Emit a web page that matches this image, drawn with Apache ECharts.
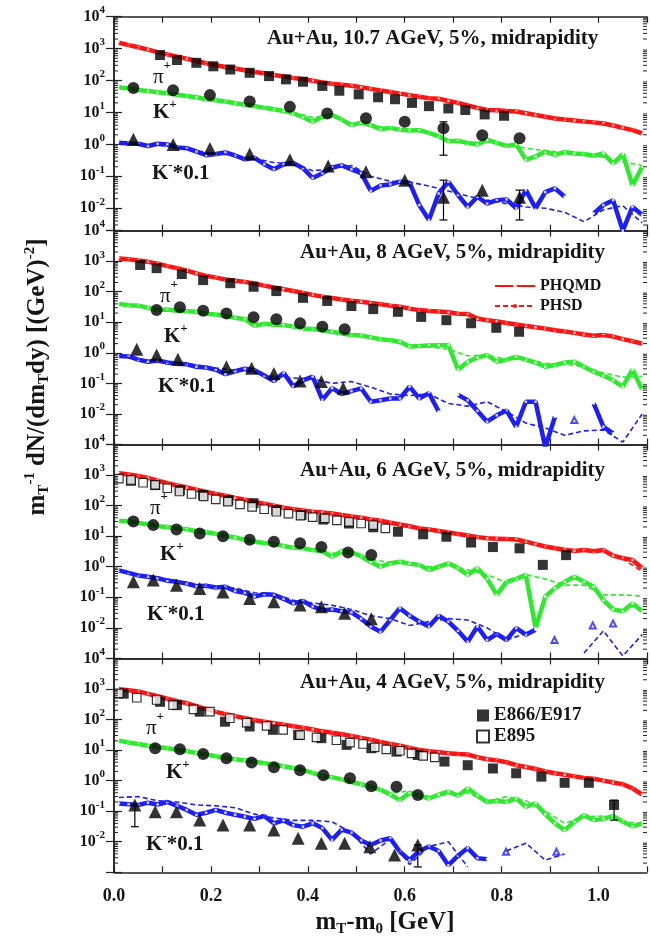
<!DOCTYPE html>
<html>
<head>
<meta charset="utf-8">
<script src="https://cdn.jsdelivr.net/npm/echarts@6/dist/echarts.min.js"></script>
<style>
html, body { margin: 0; padding: 0; background: #fff; }
#main { width: 650px; height: 942px; }
</style>
</head>
<body>
<div id="main"></div>
<script>
// x grids of the model curves (PHQMD every 0.02 GeV, PHSD every 0.04 GeV)
var xM = [0.01,0.03,0.05,0.07,0.09,0.11,0.13,0.15,0.17,0.19,0.21,0.23,0.25,0.27,0.29,0.31,0.33,0.35,0.37,0.39,0.41,0.43,0.45,0.47,0.49,0.51,0.53,0.55,0.57,0.59,0.61,0.63,0.65,0.67,0.69,0.71,0.73,0.75,0.77,0.79,0.81,0.83,0.85,0.87,0.89,0.91,0.93,0.95,0.97,0.99,1.01,1.03,1.05,1.07,1.09];
var xH = [0.01,0.05,0.09,0.13,0.17,0.21,0.25,0.29,0.33,0.37,0.41,0.45,0.49,0.53,0.57,0.61,0.65,0.69,0.73,0.77,0.81,0.85,0.89,0.93,0.97,1.01,1.05,1.09];
var decadeBases = [0.001, 0.01, 0.1, 1, 10, 100, 1000];

// ---- panel 1: 10.7 AGeV
var p1PiQ = [1550,1290,1100,930,780,660,560,480,410,350,300,265,240,210,186,170,150,135,120,110,98,87,79,74,69,62,55,49,44,39,35,31,28,27,23,20,16.6,14,12,11.7,11.2,10.7,9.5,8.3,7.4,6.5,6.0,5.6,5.2,4.9,4.5,3.9,3.3,2.8,2.2];
var p1PiH = [1500,1080,770,560,400,300,235,185,148,118,97,80,67,54,44,35,28,22,17,13,11,9.3,7.5,6.1,5.1,4.2,3.3,2.3];
var p1KpQ = [62,56,51,47,43,40,36,33,30,26,24,22,19.5,17.4,15.8,14,12.6,11.2,9.5,7.1,5.1,7.4,8.3,6.0,4.0,4.8,4.0,3.0,3.3,2.9,2.75,2.8,2.3,1.8,1.26,1.3,1.1,1.0,1.4,1.12,0.9,1.0,0.33,0.42,0.6,0.47,0.58,0.52,0.5,0.44,0.52,0.25,0.5,0.052,0.2];
var p1KpH = [62,51,43,36,30,24,19.5,15.8,12.6,10,7,8,4.5,4,3.2,2.8,2.3,1.4,1.1,1.3,0.95,0.76,0.63,0.56,0.48,0.4,0.28,0.22];
var p1KmQ = [1.12,1.07,1.05,0.89,1.05,1.0,0.8,0.76,0.6,0.46,0.5,0.56,0.45,0.34,0.38,0.24,0.166,0.24,0.26,0.18,0.089,0.126,0.19,0.22,0.166,0.126,0.035,0.052,0.056,0.068,0.063,0.0126,0.0043,0.029,0.068,0.026,0.011,0.023,0.014,0.018,0.019,0.01,0.037,0.01,0.032,0.042,0.023,null,null,0.0069,0.0126,0.018,0.002,0.011,0.0063];
var p1KmH = [1.1,1.0,0.95,0.8,0.62,0.52,0.45,0.36,0.27,0.25,0.15,0.17,0.22,0.1,0.07,0.066,0.05,0.035,0.024,0.018,0.014,0.011,0.01,0.0075,0.0038,0.009,0.012,0.0035];
var p1PiDx = [0.095,0.13,0.17,0.205,0.24,0.28,0.32,0.355,0.39,0.43,0.465,0.505,0.545,0.58,0.615,0.65,0.69,0.725,0.765,0.805];
var p1PiDy = [630,440,360,280,222,175,138,109,92,68,48,37,30,26,20,15.8,13.4,12,8.7,7.9];
var p1KpDx = [0.04,0.122,0.198,0.28,0.363,0.44,0.52,0.60,0.68,0.76,0.837];
var p1KpDy = [58,50,35,22,15,9.3,6.6,5.1,3.2,1.95,1.55];
var p1KmDx = [0.04,0.122,0.198,0.28,0.363,0.442,0.52,0.60,0.68,0.76,0.837];
var p1KmDy = [1.45,1.0,0.74,0.5,0.33,0.21,0.14,0.076,0.022,0.037,0.022];
var p1Err = [[0.68,0.46,5.1],[0.68,0.0043,0.076],[0.837,0.0043,0.037]];

// ---- panel 2: 8 AGeV
var p2PiQ = [1230,1150,1050,950,830,690,590,490,400,330,290,250,230,210,186,158,138,120,105,91,79,69,62,56,51,47,43,39,35,32,28,25,23.4,22.4,21.4,19,18.5,13.2,11.7,10.7,9.5,8.5,7.6,6.9,6.2,5.5,5.0,4.5,4.0,3.6,3.8,3.4,2.8,2.4,2.0];
var p2PiH = [1200,1030,820,580,400,285,225,180,135,103,78,61,50,42,34,27,23,21,17,12,9.5,7.8,6.3,5.1,4.1,3.6,2.9,1.9];
var p2KpQ = [40,36,35,30,25,26,24,23,22,19,18,16,14,12.6,7.6,8.9,8.3,8.1,7.2,6.3,6.0,5.5,4.9,4.3,3.8,3.7,3.2,2.8,2.6,2.3,1.6,1.66,1.74,1.78,1.8,0.28,0.51,0.7,0.85,0.51,0.6,0.74,0.6,0.48,0.35,0.4,0.48,0.51,0.35,0.24,0.18,0.126,0.078,0.28,0.063];
var p2KpH = [40,35,26,24,21,18,14,9.5,8.5,7.0,6.0,4.9,3.9,3.2,2.6,1.5,1.6,1.3,0.8,0.85,0.6,0.62,0.45,0.42,0.35,0.22,0.16,0.17];
var p2KmQ = [0.79,0.76,0.6,0.51,0.56,0.48,0.44,0.42,0.35,0.33,0.28,0.2,0.25,0.3,0.27,0.18,0.12,0.22,0.08,0.126,0.166,0.029,0.07,0.045,0.056,0.069,0.025,0.028,0.032,0.032,0.078,0.032,0.048,0.012,null,0.042,0.028,0.0126,0.0056,0.009,0.013,0.0038,0.025,0.025,0.0008,0.0081,null,null,null,0.022,0.0038,0.0023,null,null,0.003];
var p2KmH = [0.8,0.62,0.55,0.46,0.4,0.32,0.27,0.22,0.17,0.15,0.14,0.1,0.115,0.075,0.045,0.04,0.045,0.022,0.018,0.025,0.012,0.005,0.0035,0.002,0.0028,0.003,0.0012,0.01];
var p2PiDx = [0.054,0.088,0.14,0.184,0.24,0.288,0.335,0.39,0.44,0.49,0.535,0.586,0.634,0.686,0.737,0.789,0.836];
var p2PiDy = [750,590,380,240,190,145,105,63,50,34,27,22,15,11.7,9.3,6.6,4.9];
var p2KpDx = [0.088,0.136,0.184,0.232,0.288,0.335,0.384,0.43,0.476];
var p2KpDy = [25,31,24,19.5,14.5,12.6,9.3,7.2,5.9];
var p2KmDx = [0.047,0.088,0.132,0.232,0.284,0.33,0.384,0.428,0.473];
var p2KmDy = [1.3,0.85,0.62,0.35,0.31,0.21,0.12,0.115,0.069];
var p2Err = [];
var p2Iso = [[0.95,0.0063]];

// ---- panel 3: 6 AGeV
var p3PiQ = [1150,1050,930,810,660,540,460,390,330,280,240,210,178,155,132,115,100,85,76,69,63,60,55,49,44,40,35,32,27.5,24,21,18,16.6,14.8,13.2,11.7,10.5,9.3,8.5,8.3,8.1,7.8,6.6,5.5,4.6,4.0,3.6,3.3,3.5,3.2,3.5,2.3,1.9,1.66,0.9];
var p3PiH = [1120,900,650,450,320,235,172,130,98,75,62,53,43,35,27,21,16.3,13,10.3,8.4,8.0,6.5,4.5,3.5,3.3,3.3,1.8,0.7];
var p3KpQ = [32,30,27,24.5,21,20,18,17,14.5,13.5,12,10.2,9.1,7.6,6.6,6.0,5.5,4.8,4.2,4.0,3.5,3.2,2.1,3.2,3.0,2.2,1.4,1.0,1.3,1.45,1.26,1.15,0.78,1.0,1.3,0.9,0.54,0.9,0.4,0.12,0.32,0.4,0.54,0.0098,0.105,0.2,0.32,0.47,0.32,0.22,0.08,0.04,0.035,0.063,0.035];
var p3KpH = [32,27,21,18,14.5,12,9.1,6.6,5.5,4.4,3.6,2.8,2.6,1.7,1.4,1.3,1.0,1.1,0.8,0.55,0.3,0.55,0.4,0.25,0.25,0.12,0.12,0.11];
var p3KmQ = [0.76,0.63,0.52,0.47,0.42,0.35,0.32,0.28,0.23,0.24,0.21,0.22,0.16,0.14,0.105,0.126,0.12,0.089,0.063,0.076,0.05,0.038,0.04,0.035,0.032,0.02,0.011,0.0074,0.018,0.044,0.025,0.016,0.011,0.025,0.016,0.008,0.0035,0.011,0.004,0.0063,0.004,0.0098,0.006,0.0087,null,null,null,null,null,null,null,null,null,null,null];
var p3KmH = [0.8,0.55,0.45,0.35,0.27,0.22,0.2,0.14,0.13,0.08,0.065,0.055,0.04,0.025,0.02,0.012,0.016,0.02,0.018,0.01,0.004,0.0065,null,null,0.0015,0.008,0.0012,0.006];
var p3PiOx = [0.01,0.035,0.06,0.085,0.11,0.135,0.16,0.185,0.21,0.235,0.26,0.285,0.31,0.335,0.36,0.385,0.41,0.435,0.46,0.485,0.51,0.535,0.56];
var p3PiOy = [760,690,560,480,370,290,240,200,160,135,110,91,76,63,55,47,42,38,33,29.5,26,23,18];
var p3PiDx = [0.035,0.085,0.136,0.184,0.236,0.288,0.335,0.387,0.432,0.485,0.535,0.586,0.638,0.686,0.737,0.782,0.837,0.885,0.933];
var p3PiDy = [650,470,325,225,150,120,72,49,35,26,19.5,14,11.5,9.6,6.2,4.4,4.0,1.15,2.4];
var p3KpDx = [0.04,0.081,0.129,0.177,0.225,0.28,0.33,0.384,0.428,0.483,0.531];
var p3KpDy = [30,23,16.6,12.3,10,7.6,6.6,5.9,4.4,2.9,2.4];
var p3KmDx = [0.04,0.081,0.129,0.177,0.225,0.28,0.33,0.384,0.428,0.476,0.531];
var p3KmDy = [0.32,0.37,0.25,0.195,0.15,0.091,0.072,0.056,0.049,0.03,0.02];
var p3Err = [];
var p3Iso = [[0.909,0.004],[0.988,0.012],[1.03,0.014]];

// ---- panel 4: 4 AGeV
var p4PiQ = [980,910,830,690,575,480,400,340,275,220,178,150,129,110,95,85,76,68,60,54,47,41,37,33,29,25,22,18.6,15.8,13.8,11.7,10,9.1,8.5,7.9,7.4,7.2,5.8,5.0,4.6,4.0,3.2,2.8,2.4,2.0,1.74,1.55,1.38,1.23,1.15,1.0,0.87,0.76,0.56,0.35];
var p4PiH = [950,820,570,400,270,175,128,95,75,60,47,37,29,22,15.8,11.7,9.1,7.9,7.0,5.0,4.0,2.9,2.0,1.55,1.25,1.0,0.78,0.4];
var p4KpQ = [20.4,17.8,15.8,13.8,12.6,11.5,10.2,9.1,8.1,7.2,6.3,5.5,5.0,4.6,4.2,3.7,3.4,2.95,2.6,2.2,1.8,1.4,1.3,1.1,0.9,0.76,0.63,0.5,0.35,0.23,0.4,0.32,0.26,0.35,0.44,0.32,0.56,0.32,0.2,0.22,0.2,0.26,0.14,0.18,0.08,0.04,0.024,0.045,0.074,0.051,0.056,0.07,0.045,0.032,0.04];
var p4KpH = [20,15.5,12.5,10,8,6.3,5.0,4.2,3.4,2.6,1.8,1.3,0.9,0.65,0.4,0.45,0.3,0.35,0.4,0.2,0.3,0.22,0.1,0.04,0.065,0.07,0.045,0.04];
var p4KmQ = [0.18,0.17,0.16,0.19,0.166,0.2,0.15,0.11,0.076,0.089,0.11,0.089,0.076,0.066,0.056,0.07,0.04,0.05,0.035,0.031,0.04,0.028,0.0115,0.025,0.02,0.011,0.0078,0.011,0.013,0.0047,0.0025,0.005,0.007,0.005,0.0017,0.0035,0.0062,0.0029,0.0027,null,null,null,null,null,null,null,null,null,null,null,null,null,null,null,null];
var p4KmH = [0.28,0.3,0.22,0.2,0.16,0.15,0.13,0.08,0.06,0.05,0.05,0.045,0.02,0.004,0.012,0.0018,0.007,0.01,0.0015,null,0.005,0.009,0.0025,0.004,null,null,null,null];
var p4PiOx = [0.01,0.047,0.088,0.122,0.164,0.198,0.239,0.274,0.315,0.349,0.384,0.418,0.459,0.487,0.514,0.538,0.562,0.59,0.614,0.638,0.662];
var p4PiOy = [720,515,435,295,215,180,110,79,62,46,31,26,21,17.4,15.8,12.3,10.5,9.5,7.8,6.5,5.8];
var p4PiDx = [0.02,0.095,0.13,0.177,0.229,0.28,0.328,0.38,0.428,0.48,0.531,0.583,0.627,0.682,0.73,0.782,0.83,0.882,0.93,0.98,1.032];
var p4PiDy = [700,380,295,180,85,59,46,31,24.5,14.8,11.5,8.9,6.9,4.2,3.2,2.5,1.74,1.35,0.85,0.85,0.16];
var p4KpDx = [0.085,0.136,0.184,0.232,0.284,0.33,0.384,0.432,0.487,0.531,0.583,0.627];
var p4KpDy = [11.5,10.7,7.4,5.4,3.9,2.75,2.2,1.5,1.2,0.66,0.63,0.34];
var p4KmDx = [0.043,0.085,0.129,0.177,0.225,0.28,0.33,0.38,0.428,0.476,0.528,0.579,0.627];
var p4KmDy = [0.16,0.095,0.095,0.051,0.035,0.035,0.024,0.013,0.009,0.009,0.0069,0.0037,0.0078];
var p4Err = [[1.032,0.051,0.23],[0.043,0.031,0.16],[0.627,0.0015,0.0078]];
var p4Iso = [[0.809,0.0047],[0.913,0.0047]];

var titles = ['Au+Au, 10.7 AGeV, 5%, midrapidity', 'Au+Au, 8 AGeV, 5%, midrapidity',
              'Au+Au, 6 AGeV, 5%, midrapidity', 'Au+Au, 4 AGeV, 5%, midrapidity'];

var FONT = "'Liberation Serif', 'Times New Roman', serif";
var INK = '#151515';
var RED = '#ff1414', GREEN = '#2eea2e', BLUE = '#1e1ef6';

var panels = [
  {piQ: p1PiQ, piH: p1PiH, kpQ: p1KpQ, kpH: p1KpH, kmQ: p1KmQ, kmH: p1KmH, piDx: p1PiDx, piDy: p1PiDy, piOx: null, piOy: null,
   kpDx: p1KpDx, kpDy: p1KpDy, kmDx: p1KmDx, kmDy: p1KmDy, err: p1Err, iso: [], ymin: 0.002},
  {piQ: p2PiQ, piH: p2PiH, kpQ: p2KpQ, kpH: p2KpH, kmQ: p2KmQ, kmH: p2KmH, piDx: p2PiDx, piDy: p2PiDy, piOx: null, piOy: null,
   kpDx: p2KpDx, kpDy: p2KpDy, kmDx: p2KmDx, kmDy: p2KmDy, err: p2Err, iso: p2Iso, ymin: 0.001},
  {piQ: p3PiQ, piH: p3PiH, kpQ: p3KpQ, kpH: p3KpH, kmQ: p3KmQ, kmH: p3KmH, piDx: p3PiDx, piDy: p3PiDy, piOx: p3PiOx, piOy: p3PiOy,
   kpDx: p3KpDx, kpDy: p3KpDy, kmDx: p3KmDx, kmDy: p3KmDy, err: p3Err, iso: p3Iso, ymin: 0.001},
  {piQ: p4PiQ, piH: p4PiH, kpQ: p4KpQ, kpH: p4KpH, kmQ: p4KmQ, kmH: p4KmH, piDx: p4PiDx, piDy: p4PiDy, piOx: p4PiOx, piOy: p4PiOy,
   kpDx: p4KpDx, kpDy: p4KpDy, kmDx: p4KmDx, kmDy: p4KmDy, err: p4Err, iso: p4Iso, ymin: 0.001}
];

var tops = [16.7, 230.6, 444.5, 658.4];
var panelH = 213.9;

function zip(xs, ys) {
  return xs.map(function (x, k) { return [x, ys[k] == null ? '-' : ys[k]]; });
}

function modelLine(name, xs, ys, color, dashed, i) {
  var s = {
    type: 'line', name: name, xAxisIndex: 2 * i, yAxisIndex: 2 * i,
    data: zip(xs, ys), connectNulls: false, silent: true, animation: false
  };
  if (dashed) {
    s.symbol = 'none';
    s.lineStyle = {color: color, width: 1.6, type: [5, 3]};
    s.itemStyle = {color: color};
    s.z = 3;
  } else {
    s.symbol = 'rect';
    s.symbolSize = 2.5;
    s.showSymbol = true;
    s.lineStyle = {color: color, width: 4.5};
    s.itemStyle = {color: '#ffffff', opacity: 0.8};
    s.z = 2;
  }
  return s;
}

function dataPts(name, xs, ys, symbol, size, open, i) {
  return {
    type: 'scatter', name: name, xAxisIndex: 2 * i, yAxisIndex: 2 * i,
    data: zip(xs, ys), symbol: symbol, symbolSize: size, silent: true, animation: false, z: 5,
    itemStyle: open ? {color: '#ffffff', borderColor: '#000', borderWidth: 1.2} : {color: '#000'}
  };
}

function errBars(list, i) {
  return {
    type: 'custom', xAxisIndex: 2 * i, yAxisIndex: 2 * i, silent: true, animation: false, z: 6,
    data: list, encode: {x: 0, y: [1, 2]},
    renderItem: function (params, api) {
      var lo = api.coord([api.value(0), api.value(1)]);
      var hi = api.coord([api.value(0), api.value(2)]);
      var st = {stroke: '#000', lineWidth: 1.2};
      return {type: 'group', children: [
        {type: 'line', shape: {x1: lo[0], y1: lo[1], x2: hi[0], y2: hi[1]}, style: st},
        {type: 'line', shape: {x1: lo[0] - 4, y1: lo[1], x2: lo[0] + 4, y2: lo[1]}, style: st},
        {type: 'line', shape: {x1: hi[0] - 4, y1: hi[1], x2: hi[0] + 4, y2: hi[1]}, style: st}
      ]};
    }
  };
}

// log-style minor ticks on both vertical frame sides, placed through the axis scale
function minorTicks(i, ymin) {
  return {
    type: 'custom', xAxisIndex: 2 * i, yAxisIndex: 2 * i, silent: true, animation: false, z: 7, clip: false,
    data: decadeBases.map(function (b) { return [0, b]; }),
    renderItem: function (params, api) {
      var base = api.value(1), kids = [];
      for (var m = 2; m <= 9; m++) {
        var v = m * base;
        if (v <= ymin * 1.0001 || v >= 10000) continue;
        var l = api.coord([0, v]), r = api.coord([1.1, v]);
        var st = {stroke: '#222', lineWidth: 1};
        kids.push({type: 'line', shape: {x1: l[0], y1: l[1], x2: l[0] + 4, y2: l[1]}, style: st});
        kids.push({type: 'line', shape: {x1: r[0], y1: r[1], x2: r[0] - 4, y2: r[1]}, style: st});
      }
      return {type: 'group', children: kids};
    }
  };
}

function yLab(v) {
  var e = Math.log10(v), r = Math.round(e);
  if (Math.abs(e - r) > 1e-6 || r < -2) return '';
  return '{b|10}{s|' + r + '}';
}
function xLab(v) {
  var t = Math.round(v * 10);
  return (t % 2 === 0 && t <= 10) ? (t / 10).toFixed(1) : '';
}

var axisLineStyle = {color: '#222', width: 1.5};
var grids = [], xAxes = [], yAxes = [], series = [];

panels.forEach(function (p, i) {
  grids.push({left: 114, width: 533, top: tops[i], height: panelH});
  ['bottom', 'top'].forEach(function (pos) {
    xAxes.push({
      gridIndex: i, type: 'value', position: pos, min: 0, max: 1.1, interval: 0.1,
      axisLine: {show: true, onZero: false, lineStyle: axisLineStyle},
      axisTick: {show: true, inside: true, length: 6, lineStyle: {color: '#222', width: 1.2}},
      splitLine: {show: false},
      axisLabel: (i === 3 && pos === 'bottom') ? {
        formatter: xLab, margin: 15, fontFamily: FONT, fontWeight: 'bold', fontSize: 18, color: INK
      } : {show: false}
    });
  });
  ['left', 'right'].forEach(function (pos) {
    yAxes.push({
      gridIndex: i, type: 'log', logBase: 10, position: pos, min: p.ymin, max: 10000,
      axisLine: {show: true, lineStyle: axisLineStyle},
      axisTick: {show: true, inside: true, length: 8, lineStyle: {color: '#222', width: 1.2}},
      splitLine: {show: false},
      axisLabel: pos === 'left' ? {
        formatter: yLab, margin: 9,
        rich: {
          b: {fontFamily: FONT, fontWeight: 'bold', fontSize: 16, color: INK},
          s: {fontFamily: FONT, fontWeight: 'bold', fontSize: 11, color: INK, padding: [0, 0, 13, 0]}
        }
      } : {show: false}
    });
  });
});

// model curves first, so the legend takes the red pion curve as its icon
panels.forEach(function (p, i) {
  series.push(modelLine('PHQMD', xM, p.piQ, RED, false, i));
  series.push(modelLine('PHSD', xH, p.piH, RED, true, i));
  series.push(modelLine('PHQMD', xM, p.kpQ, GREEN, false, i));
  series.push(modelLine('PHSD', xH, p.kpH, GREEN, true, i));
  series.push(modelLine('PHQMD', xM, p.kmQ, BLUE, false, i));
  series.push(modelLine('PHSD', xH, p.kmH, BLUE, true, i));
});
panels.forEach(function (p, i) {
  series.push(dataPts('E866/E917', p.piDx, p.piDy, 'rect', 10, false, i));
  if (p.piOx) series.push(dataPts('E895', p.piOx, p.piOy, 'rect', 8.5, true, i));
  series.push(dataPts('K+ data', p.kpDx, p.kpDy, 'circle', 12, false, i));
  series.push(dataPts('K- data', p.kmDx, p.kmDy, 'triangle', 13, false, i));
  if (p.err.length) series.push(errBars(p.err, i));
  if (p.iso.length) series.push({
    type: 'scatter', name: 'PHSD pts', xAxisIndex: 2 * i, yAxisIndex: 2 * i, silent: true, animation: false,
    data: p.iso, symbol: 'emptyTriangle', symbolSize: 6, itemStyle: {color: BLUE, borderColor: BLUE, borderWidth: 1}, z: 3
  });
  series.push(minorTicks(i, p.ymin));
});

// text labels
var labStyle = {
  k: {fontFamily: FONT, fontWeight: 'bold', fontSize: 21, fill: INK},
  p: {fontFamily: FONT, fontSize: 21, fill: INK},
  s: {fontFamily: FONT, fontWeight: 'bold', fontSize: 13, fill: INK, padding: [0, 0, 16, 0]},
  sp: {fontFamily: FONT, fontWeight: 'bold', fontSize: 13, fill: INK, padding: [0, 0, 22, 0]}
};
var labelPos = [
  [[153, 77], [153, 113], [152, 174]],
  [[160, 296], [164, 337], [158, 387]],
  [[150, 508], [160, 555], [147, 615]],
  [[146, 728], [166, 773], [146, 845]]
];
var titleX = [267, 300, 300, 300];
var titleY = [39, 252.5, 471, 683];

var graphics = [];
labelPos.forEach(function (lp, i) {
  var texts = ['{p|π}{sp|+}', '{k|K}{s|+}', '{k|K}{s|-}{k|*0.1}'];
  lp.forEach(function (pt, j) {
    graphics.push({type: 'text', x: pt[0], y: pt[1], silent: true,
      style: {text: texts[j], rich: labStyle, align: 'left', verticalAlign: 'middle'}});
  });
  graphics.push({type: 'text', x: titleX[i], y: titleY[i], silent: true,
    style: {text: titles[i], fontFamily: FONT, fontWeight: 'bold', fontSize: 21, fill: INK,
            align: 'left', verticalAlign: 'middle'}});
});

var titleRich = {
  m: {fontFamily: FONT, fontWeight: 'bold', fontSize: 25, fill: INK},
  sub: {fontFamily: FONT, fontWeight: 'bold', fontSize: 15, fill: INK, padding: [13, 0, 0, 0]},
  sup: {fontFamily: FONT, fontWeight: 'bold', fontSize: 15, fill: INK, padding: [0, 0, 15, 0]}
};
graphics.push({type: 'text', x: 38, y: 377, rotation: Math.PI / 2, silent: true,
  style: {text: '{m|m}{sub|T}{sup|-1}{m| dN/(dm}{sub|T}{m|dy) [(GeV)}{sup|-2}{m|]}', rich: titleRich,
          align: 'center', verticalAlign: 'middle'}});
graphics.push({type: 'text', x: 385, y: 923, silent: true,
  style: {text: '{m|m}{sub|T}{m|-m}{sub|0}{m| [GeV]}', rich: titleRich, align: 'center', verticalAlign: 'middle'}});

var chart = echarts.init(document.getElementById('main'), null, {renderer: 'canvas'});
chart.setOption({
  animation: false,
  backgroundColor: '#ffffff',
  textStyle: {fontFamily: FONT},
  grid: grids,
  xAxis: xAxes,
  yAxis: yAxes,
  legend: [
    {data: ['PHQMD', 'PHSD'], orient: 'vertical', left: 489, top: 273, itemWidth: 40, itemHeight: 5, itemGap: 4,
     selectedMode: false, textStyle: {fontFamily: FONT, fontWeight: 'bold', fontSize: 16, color: INK}},
    {data: ['E866/E917', 'E895'], orient: 'vertical', left: 471, top: 701, itemWidth: 12, itemHeight: 12, itemGap: 2,
     selectedMode: false, textStyle: {fontFamily: FONT, fontWeight: 'bold', fontSize: 19, color: INK}}
  ],
  graphic: graphics,
  series: series
});
</script>
</body>
</html>
